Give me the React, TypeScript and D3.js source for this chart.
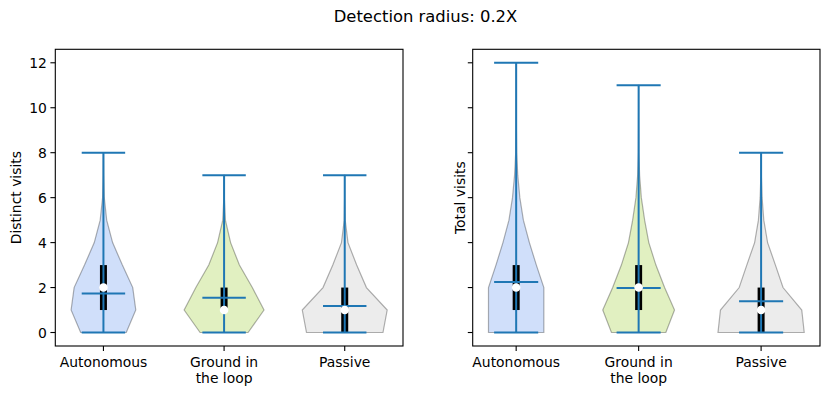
import React from "react";
import * as d3 from "d3";

// categories and per-panel stats
const categories = ["Autonomous", "Ground in\nthe loop", "Passive"];
const fills = ["#d0dffa", "#e1f0c1", "#ececec"];
const yTicks = [0, 2, 4, 6, 8, 10, 12];

// violin half-widths (x units) at y = 0, 1, 2, ...
const distinctWidths = [
    [0.189, 0.268, 0.243, 0.157, 0.076, 0.027, 0.007, 0.002, 0.0004],
    [0.199, 0.331, 0.234, 0.127, 0.054, 0.011, 0.002, 0.0003],
    [0.317, 0.352, 0.180, 0.099, 0.027, 0.004, 0.001, 0.0002],
];
const totalWidths = [
    [0.226, 0.226, 0.226, 0.165, 0.108, 0.059, 0.03, 0.013, 0.004, 0.002, 0.001, 0.0004, 0.0002],
    [0.222, 0.293, 0.212, 0.141, 0.083, 0.049, 0.022, 0.008, 0.002, 0.001, 0.0004, 0.0002],
    [0.352, 0.332, 0.179, 0.117, 0.053, 0.022, 0.008, 0.002, 0.001],
];

const distinctMin = [0, 0, 0];
const distinctMax = [8, 7, 7];
const distinctMean = [1.74, 1.55, 1.18];
const distinctMedian = [2, 1, 1];
const distinctQ1 = [1, 1, 0];
const distinctQ3 = [3, 2, 2];

const totalMin = [0, 0, 0];
const totalMax = [12, 11, 8];
const totalMean = [2.25, 1.98, 1.39];
const totalMedian = [2, 2, 1];
const totalQ1 = [1, 1, 0];
const totalQ3 = [3, 3, 2];

const W = 830;
const H = 395;
const top = 49.3;
const bottom = 346;
const font = "DejaVu Sans, sans-serif";
const fs = 13.9;
const blue = "#1f77b4";
const capHalf = 0.18;

const yScale = d3.scaleLinear().domain([-0.6, 12.6]).range([bottom, top]);

type PanelProps = {
    left: number;
    right: number;
    label: string;
    labelX: number;
    showYLabels: boolean;
    widths: number[][];
    mins: number[];
    maxs: number[];
    means: number[];
    medians: number[];
    q1: number[];
    q3: number[];
};

const Panel = (props: PanelProps) => {
    const { widths } = props;
    // matplotlib style autoscale: data extent + 5%
    let lo = d3.min(widths, (w, i) => i + 1 - (d3.max(w) as number)) as number;
    let hi = d3.max(widths, (w, i) => i + 1 + (d3.max(w) as number)) as number;
    const pad = (hi - lo) * 0.05;
    const xScale = d3.scaleLinear().domain([lo - pad, hi + pad]).range([props.left, props.right]);

    const area = d3.area<[number, number]>()
        .y(d => yScale(d[0]))
        .x0(d => xScale(d[1]))
        .x1(d => xScale(d[2]));

    return (
        <g>
            {widths.map((w, i) => {
                const pos = i + 1;
                const pts = w.map((hw, v) => [v, pos - hw, pos + hw]) as any;
                return (
                    <path key={"v" + i} d={area(pts) || ""} fill={fills[i]}
                        stroke="#000" strokeOpacity={0.3} strokeWidth={1.2} />
                );
            })}
            {widths.map((w, i) => (
                <line key={"b" + i} x1={xScale(i + 1)} x2={xScale(i + 1)}
                    y1={yScale(props.q1[i])} y2={yScale(props.q3[i])}
                    stroke="#000" strokeWidth={7} />
            ))}
            {widths.map((w, i) => {
                const pos = i + 1;
                return (
                    <g key={"l" + i} stroke={blue} strokeWidth={2}>
                        <line x1={xScale(pos)} x2={xScale(pos)} y1={yScale(props.mins[i])} y2={yScale(props.maxs[i])} />
                        <line x1={xScale(pos - capHalf)} x2={xScale(pos + capHalf)} y1={yScale(props.mins[i])} y2={yScale(props.mins[i])} />
                        <line x1={xScale(pos - capHalf)} x2={xScale(pos + capHalf)} y1={yScale(props.maxs[i])} y2={yScale(props.maxs[i])} />
                        <line x1={xScale(pos - capHalf)} x2={xScale(pos + capHalf)} y1={yScale(props.means[i])} y2={yScale(props.means[i])} />
                    </g>
                );
            })}
            {widths.map((w, i) => (
                <circle key={"m" + i} cx={xScale(i + 1)} cy={yScale(props.medians[i])} r={4.3} fill="#fff" />
            ))}

            <rect x={props.left} y={top} width={props.right - props.left} height={bottom - top}
                fill="none" stroke="#000" strokeWidth={1.1} />

            {yTicks.map(t => (
                <g key={"yt" + t}>
                    <line x1={props.left - 4.9} x2={props.left} y1={yScale(t)} y2={yScale(t)} stroke="#000" strokeWidth={1.1} />
                    {props.showYLabels && (
                        <text x={props.left - 8.4} y={yScale(t)} dy="0.36em" textAnchor="end"
                            fontFamily={font} fontSize={fs} fill="#000">{t}</text>
                    )}
                </g>
            ))}

            {categories.map((c, i) => (
                <g key={"xt" + i}>
                    <line x1={xScale(i + 1)} x2={xScale(i + 1)} y1={bottom} y2={bottom + 4.9} stroke="#000" strokeWidth={1.1} />
                    {c.split("\n").map((s, j) => (
                        <text key={j} x={xScale(i + 1)} y={366.5 + j * 16} textAnchor="middle"
                            fontFamily={font} fontSize={fs} fill="#000">{s}</text>
                    ))}
                </g>
            ))}

            <text transform={`translate(${props.labelX}, ${(top + bottom) / 2}) rotate(-90)`}
                textAnchor="middle" fontFamily={font} fontSize={fs} fill="#000">{props.label}</text>
        </g>
    );
};

const App = () => {
    return (
        <svg width={W} height={H} style={{ position: "absolute", left: 0, top: 0, background: "#fff" }}>
            <text x={425.5} y={22} textAnchor="middle" fontFamily={font} fontSize={16.4} fill="#000">
                Detection radius: 0.2X
            </text>
            <Panel left={55.3} right={403} label="Distinct visits" labelX={20.5} showYLabels={true}
                widths={distinctWidths} mins={distinctMin} maxs={distinctMax} means={distinctMean}
                medians={distinctMedian} q1={distinctQ1} q3={distinctQ3} />
            <Panel left={472.7} right={820} label="Total visits" labelX={465} showYLabels={false}
                widths={totalWidths} mins={totalMin} maxs={totalMax} means={totalMean}
                medians={totalMedian} q1={totalQ1} q3={totalQ3} />
        </svg>
    );
};

export default App;
